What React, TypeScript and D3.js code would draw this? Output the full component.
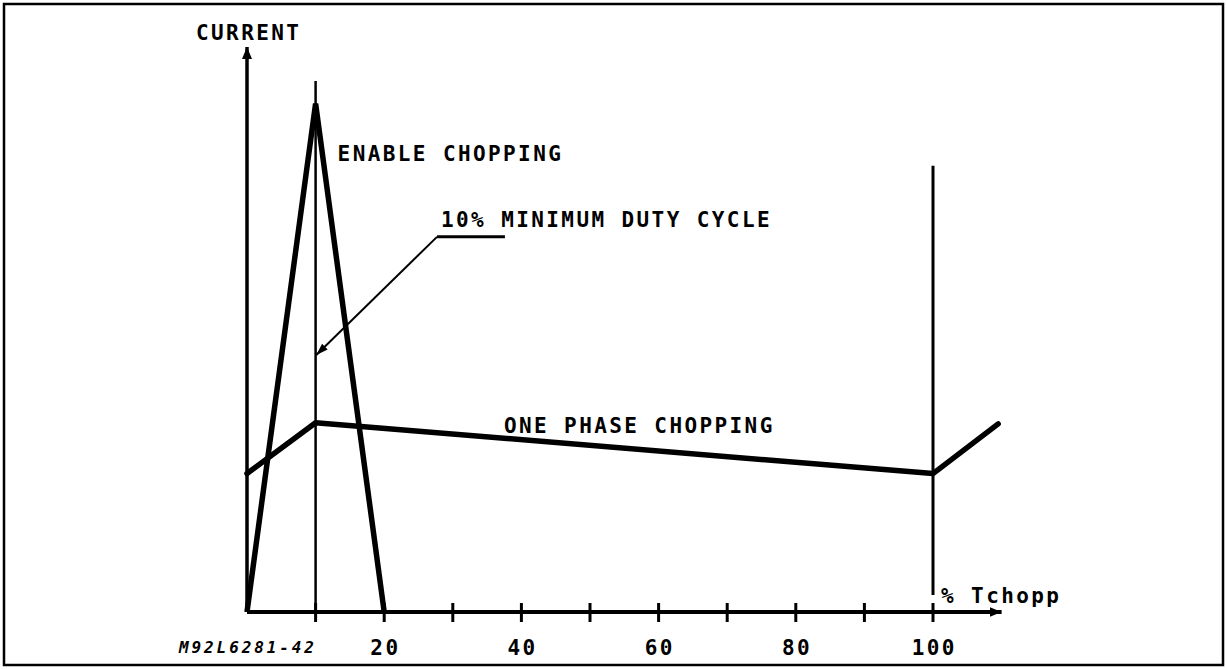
import React, { useRef, useEffect } from "react"
import * as d3 from "d3"

const W = 1227
const H = 669
const FONT = "'DejaVu Sans Mono', 'Liberation Mono', monospace"

// x: % of Tchopp, y: current (arbitrary units, axis top = 100)
const xMax = 110
const yMax = 100
const xTicks = [10, 20, 30, 40, 50, 60, 70, 80, 90, 100]
const xLabels = ["20", "40", "60", "80", "100"]
const enableChopping: [number, number][] = [[0, 0], [10, 90], [20, 0]]
const onePhaseChopping: [number, number][] = [[0, 24.5], [10, 33.5], [100, 24.5], [109.5, 33.3]]
const minDutyLine: [number, number][] = [[10, 0], [10, 94]]
const periodLine: [number, number][] = [[100, 3], [100, 79]]
// leader from the "10% minimum duty cycle" note to the 10% line
const dutyLeader: [number, number][] = [[37.6, 66.4], [27.7, 66.4], [10.1, 45.5]]

function App() {
  const ref = useRef<SVGSVGElement>(null)

  useEffect(() => {
    const svg = d3.select(ref.current)
    svg.selectAll("*").remove()

    const x = d3.scaleLinear().domain([0, 100]).range([247, 933])
    const y = d3.scaleLinear().domain([0, 100]).range([612, 47])
    const line = d3.line<[number, number]>().x(d => x(d[0])).y(d => y(d[1]))

    const defs = svg.append("defs")
    defs
      .append("marker")
      .attr("id", "axisArrow")
      .attr("markerUnits", "userSpaceOnUse")
      .attr("viewBox", "0 0 12 10")
      .attr("refX", 12)
      .attr("refY", 5)
      .attr("markerWidth", 12)
      .attr("markerHeight", 10)
      .attr("orient", "auto")
      .append("path")
      .attr("d", "M0,0 L12,5 L0,10 Z")
      .attr("fill", "#000")
    defs
      .append("marker")
      .attr("id", "leaderArrow")
      .attr("markerUnits", "userSpaceOnUse")
      .attr("viewBox", "0 0 12 10")
      .attr("refX", 12)
      .attr("refY", 5)
      .attr("markerWidth", 12)
      .attr("markerHeight", 10)
      .attr("orient", "auto")
      .append("path")
      .attr("d", "M0,1 L12,5 L0,9 Z")
      .attr("fill", "#000")

    // frame
    svg
      .append("rect")
      .attr("x", 4)
      .attr("y", 4)
      .attr("width", W - 8)
      .attr("height", H - 8)
      .attr("fill", "none")
      .attr("stroke", "#000")
      .attr("stroke-width", 2.5)

    // thin vertical lines
    svg
      .append("path")
      .attr("d", line(minDutyLine))
      .attr("stroke", "#000")
      .attr("stroke-width", 2.5)
      .attr("fill", "none")
    svg
      .append("path")
      .attr("d", line(periodLine))
      .attr("stroke", "#000")
      .attr("stroke-width", 3)
      .attr("fill", "none")

    // axes
    svg
      .append("line")
      .attr("x1", x(0))
      .attr("x2", x(0))
      .attr("y1", y(0))
      .attr("y2", y(yMax))
      .attr("stroke", "#000")
      .attr("stroke-width", 3.5)
      .attr("marker-end", "url(#axisArrow)")
    svg
      .append("line")
      .attr("x1", x(0))
      .attr("x2", x(xMax))
      .attr("y1", y(0))
      .attr("y2", y(0))
      .attr("stroke", "#000")
      .attr("stroke-width", 4)
      .attr("marker-end", "url(#axisArrow)")

    svg
      .append("g")
      .selectAll("line")
      .data(xTicks)
      .join("line")
      .attr("x1", d => x(d))
      .attr("x2", d => x(d))
      .attr("y1", y(0) - 9)
      .attr("y2", y(0) + 10)
      .attr("stroke", "#000")
      .attr("stroke-width", 3)

    // curves
    svg
      .append("path")
      .attr("d", line(enableChopping))
      .attr("stroke", "#000")
      .attr("stroke-width", 5.5)
      .attr("fill", "none")
    svg
      .append("path")
      .attr("d", line(onePhaseChopping))
      .attr("stroke", "#000")
      .attr("stroke-width", 5.5)
      .attr("stroke-linecap", "round")
      .attr("stroke-linejoin", "round")
      .attr("fill", "none")

    // leader
    svg
      .append("path")
      .attr("d", line(dutyLeader.slice(0, 2)))
      .attr("stroke", "#000")
      .attr("stroke-width", 3)
      .attr("fill", "none")
    svg
      .append("path")
      .attr("d", line(dutyLeader.slice(1)))
      .attr("stroke", "#000")
      .attr("stroke-width", 2)
      .attr("fill", "none")
      .attr("marker-end", "url(#leaderArrow)")

    const label = (tx: number, ty: number, text: string, size = 21, spacing = 2.4) =>
      svg
        .append("text")
        .attr("x", tx)
        .attr("y", ty)
        .attr("font-family", FONT)
        .attr("font-weight", "bold")
        .attr("font-size", size)
        .attr("letter-spacing", spacing)
        .attr("fill", "#000")
        .text(text)

    label(x(0) - 51, y(yMax) - 7, "CURRENT")
    label(x(10) + 22, y(90) + 57, "ENABLE CHOPPING")
    label(x(27.7) + 4, y(66.4) - 10, "10% MINIMUM DUTY CYCLE")
    label(x(37.6) - 1, y(33.5) + 10, "ONE PHASE CHOPPING")
    label(x(100) + 8, y(0) - 9, "% Tchopp")
    label(x(0) - 68, y(0) + 41, "M92L6281-42", 16, 2.9).attr("font-style", "italic")

    svg
      .append("g")
      .selectAll("text")
      .data(xLabels)
      .join("text")
      .attr("x", d => x(+d) + 1.2)
      .attr("y", y(0) + 43)
      .attr("text-anchor", "middle")
      .attr("font-family", FONT)
      .attr("font-weight", "bold")
      .attr("font-size", 21)
      .attr("letter-spacing", 2.4)
      .text(d => d)
  }, [])

  return (
    <svg
      ref={ref}
      width={W}
      height={H}
      style={{ position: "absolute", left: 0, top: 0, background: "#fff" }}
    ></svg>
  )
}

export default App
